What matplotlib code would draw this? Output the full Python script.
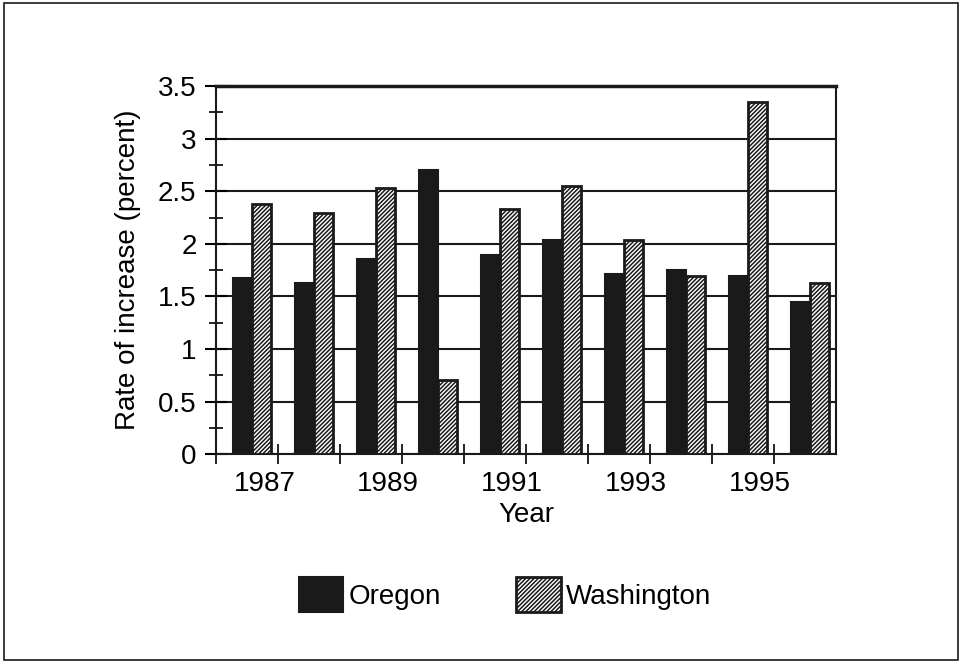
import matplotlib
matplotlib.use("Agg")
import matplotlib.pyplot as plt
import numpy as np
from matplotlib.patches import Rectangle
from matplotlib.ticker import MultipleLocator, FixedLocator

years = [1987, 1988, 1989, 1990, 1991, 1992, 1993, 1994, 1995, 1996]
oregon = [1.68, 1.63, 1.86, 2.70, 1.89, 2.04, 1.71, 1.75, 1.69, 1.45]
washington = [2.38, 2.29, 2.53, 0.71, 2.33, 2.55, 2.04, 1.69, 3.35, 1.63]
labeled_years = [1987, 1989, 1991, 1993, 1995]

plt.rcParams["font.family"] = ["Liberation Sans", "DejaVu Sans"]
plt.rcParams["hatch.linewidth"] = 1.1

fig = plt.figure(figsize=(9.62, 6.63), dpi=100)
ax = fig.add_axes([0.2245, 0.315, 0.6445, 0.555])

x = np.arange(len(years))
w = 0.3
shift = 0.08

ax.bar(x - w / 2 + shift, oregon, w, color="#1a1a1a", edgecolor="#1a1a1a",
       linewidth=1.5, label="Oregon", zorder=3)
ax.bar(x + w / 2 + shift, washington, w, color="white", edgecolor="#1a1a1a",
       hatch="////////", linewidth=2.0, label="Washington", zorder=3)

ax.set_xlim(-0.5, len(years) - 0.5)
ax.set_ylim(0, 3.5)

# y axis
ax.yaxis.set_major_locator(MultipleLocator(0.5))
ax.yaxis.set_minor_locator(MultipleLocator(0.25))
ax.set_yticklabels([f"{v:g}" for v in ax.get_yticks()])
ax.tick_params(axis="y", which="major", direction="inout", length=16, width=1.5,
               labelsize=20, pad=6)
ax.tick_params(axis="y", which="minor", direction="inout", length=10, width=1.2)
ax.grid(axis="y", which="major", color="#1a1a1a", linewidth=1.5, zorder=1)

# x axis: boundary ticks, labels for odd years
ax.xaxis.set_minor_locator(FixedLocator(x - 0.5))
ax.tick_params(axis="x", which="minor", direction="inout", length=14, width=1.2)
lab_pos = [years.index(y) + 0.28 for y in labeled_years]
ax.set_xticks(lab_pos)
ax.set_xticklabels([str(y) for y in labeled_years])
ax.tick_params(axis="x", which="major", length=0, labelsize=20, pad=12)

ax.set_xlabel("Year", fontsize=20, labelpad=4)
ax.set_ylabel("Rate of increase (percent)", fontsize=20, labelpad=12)

for s in ax.spines.values():
    s.set_linewidth(1.5)
    s.set_color("#1a1a1a")
ax.spines["top"].set_linewidth(2.5)
ax.set_axisbelow(True)

fig.legend(loc="center", bbox_to_anchor=(0.525, 0.103), ncol=2, frameon=False,
           fontsize=20, handlelength=1.6, handleheight=1.55, handletextpad=0.2,
           columnspacing=2.7)

fig.patches.append(Rectangle((0.004, 0.005), 0.992, 0.99, transform=fig.transFigure,
                             fill=False, edgecolor="#1a1a1a", linewidth=1.2))

fig.savefig("out.png", dpi=100)
